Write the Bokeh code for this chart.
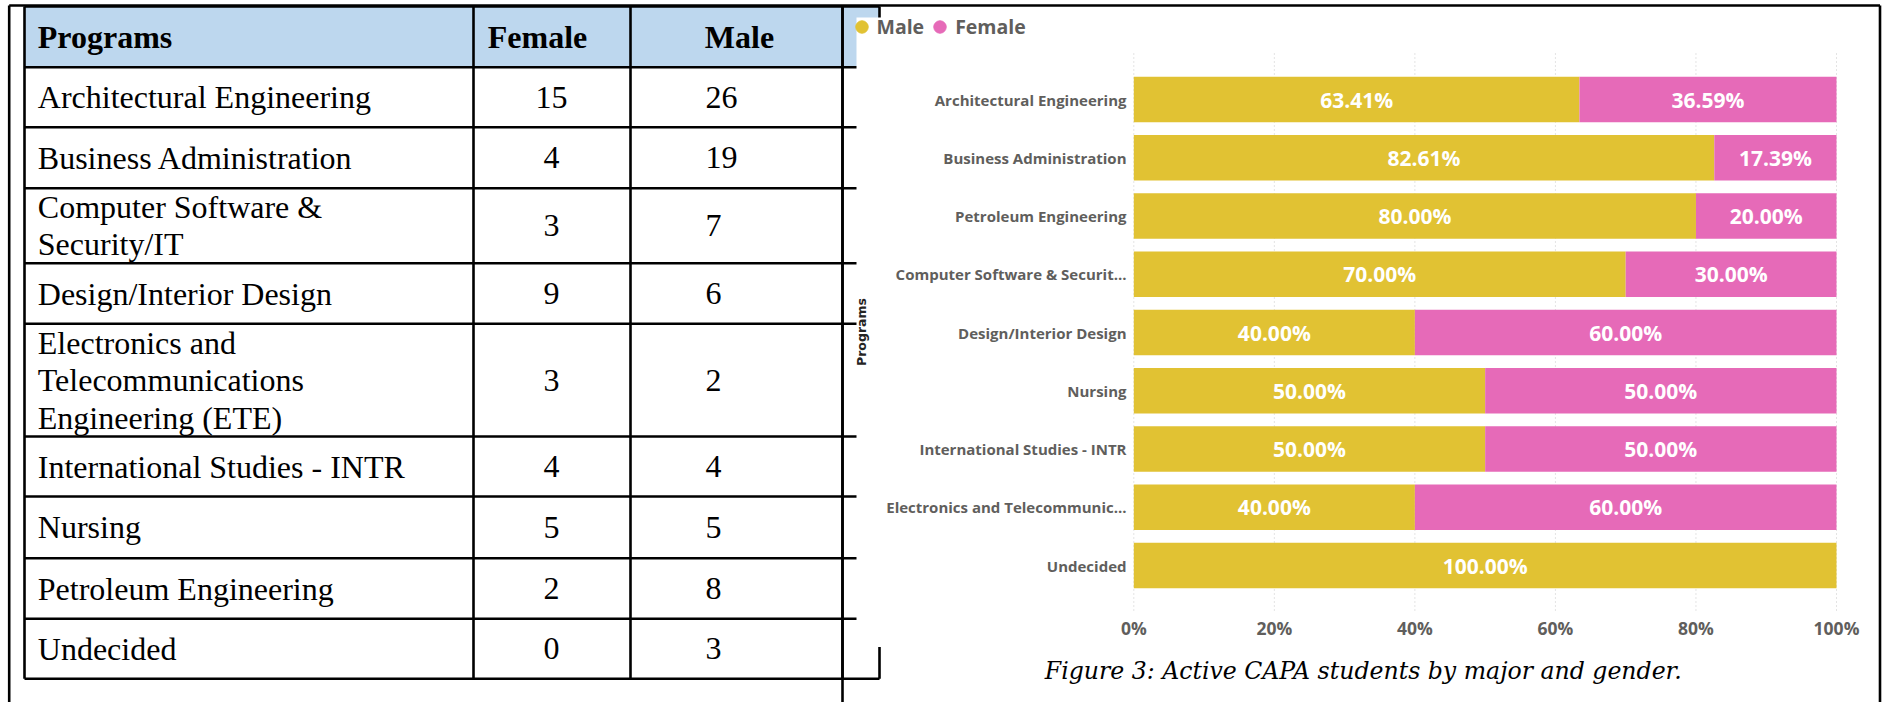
import math
from bokeh.plotting import figure
from bokeh.models import ColumnDataSource, Range1d, Legend, LegendItem
from bokeh.core.properties import value
from bokeh.embed import file_html
from bokeh.resources import INLINE

# ---------------- data ----------------
table_headers = ["Programs", "Female", "Male"]
table_programs = ["Architectural Engineering", "Business Administration",
                  "Computer Software &\nSecurity/IT", "Design/Interior Design",
                  "Electronics and\nTelecommunications\nEngineering (ETE)",
                  "International Studies - INTR", "Nursing", "Petroleum Engineering",
                  "Undecided"]
table_female = [15, 4, 3, 9, 3, 4, 5, 2, 0]
table_male = [26, 19, 7, 6, 2, 4, 5, 8, 3]

chart_programs = ["Architectural Engineering", "Business Administration",
                  "Petroleum Engineering", "Computer Software & Securit...",
                  "Design/Interior Design", "Nursing", "International Studies - INTR",
                  "Electronics and Telecommunic...", "Undecided"]
chart_male = [26, 19, 8, 7, 6, 5, 4, 2, 3]
chart_female = [15, 4, 2, 3, 9, 5, 4, 3, 0]
series_names = ["Male", "Female"]
x_ticks = [0, 20, 40, 60, 80, 100]
x_tick_labels = ["0%", "20%", "40%", "60%", "80%", "100%"]
y_title = "Programs"
caption = "Figure 3: Active CAPA students by major and gender."

# ---------------- styles / layout (page pixels) ----------------
MALE_C = "#E1C233"
FEMALE_C = "#E66AB8"
HEADER_BLUE = "#BDD7EE"
GRAY = "#605E5C"
LW = 2.6
PX0, PX1, PY0, PY1 = 0, 1886, 0, 702          # drawn page area
COL_EDGES = [24, 473, 630, 842, 879]
ROW_EDGES = [6, 66.7, 126.7, 187.7, 262.7, 323.3, 436, 496, 557.7, 618.3, 678.3]
FRAME_XS = [8.7, 842, 1879.5]
FRAME_TOP = 5
FRAME_BOTTOM = 702
NAME_X = 37.3
HEAD_XS = [37.3, 537, 739]
FEMALE_X = 551
MALE_X = 705
SERIF = "Liberation Serif"
TSIZE = "32px"
IMG_BOX = (856, 1866, 17, 646.5)   # white chart picture over the table's right edge
CH_X0, CH_X1 = 1133.3, 1836        # screen x of axis start / end
CH_TOP, CH_BOTTOM = 53, 610        # plot area
CH_Y_FIRST, CH_PITCH = 99, 58.25   # first category centre, category pitch
BAR_H = 0.78
TICK_Y = 627.5
CAT_LABEL_X = 1126
TITLE_XY = (860.7, 331.5)

p = figure(width=PX1 - PX0, height=PY1 - PY0, x_range=Range1d(PX0, PX1),
           y_range=Range1d(PY1, PY0), output_backend="svg", toolbar_location=None,
           min_border=0, x_axis_location=None, y_axis_location=None)
p.grid.visible = False
p.outline_line_color = None
p.background_fill_color = "white"
p.border_fill_color = "white"

# scales of the chart: percent along x, category index along y
sx = (CH_X1 - CH_X0) / (x_ticks[-1] - x_ticks[0])
p.extra_x_ranges = {"pct": Range1d(x_ticks[0] - (CH_X0 - PX0) / sx,
                                   x_ticks[-1] + (PX1 - CH_X1) / sx)}
p.extra_y_ranges = {"idx": Range1d((PY1 - CH_Y_FIRST) / CH_PITCH,
                                   -(CH_Y_FIRST - PY0) / CH_PITCH)}

# ---------------- table ----------------
p.quad(left=[COL_EDGES[0]], right=[COL_EDGES[-1]], top=[ROW_EDGES[0]],
       bottom=[ROW_EDGES[1]], fill_color=HEADER_BLUE, line_color=None)
n = len(ROW_EDGES)
p.segment(x0=[COL_EDGES[0]] * n, x1=[COL_EDGES[-1]] * n, y0=ROW_EDGES, y1=ROW_EDGES,
          line_color="black", line_width=LW)
m = len(COL_EDGES)
p.segment(x0=COL_EDGES, x1=COL_EDGES, y0=[ROW_EDGES[0]] * m, y1=[ROW_EDGES[-1]] * m,
          line_color="black", line_width=LW)
p.quad(left=[IMG_BOX[0]], right=[IMG_BOX[1]], top=[IMG_BOX[2]], bottom=[IMG_BOX[3]],
       fill_color="white", line_color=None)
p.segment(x0=[FRAME_XS[0]], x1=[FRAME_XS[-1]], y0=[FRAME_TOP], y1=[FRAME_TOP],
          line_color="black", line_width=LW)
k = len(FRAME_XS)
p.segment(x0=FRAME_XS, x1=FRAME_XS, y0=[FRAME_TOP] * k, y1=[FRAME_BOTTOM] * k,
          line_color="black", line_width=LW)

hy = (ROW_EDGES[0] + ROW_EDGES[1]) / 2
for i, t in enumerate(table_headers):
    p.text(x=[HEAD_XS[i]], y=[hy], text=[t], text_align="left" if i == 0 else "center",
           text_baseline="middle", text_font=value(SERIF), text_font_style="bold",
           text_font_size=TSIZE, text_color="black")
centers = [(ROW_EDGES[i] + ROW_EDGES[i + 1]) / 2 for i in range(1, len(ROW_EDGES) - 1)]
p.text(x=[NAME_X] * len(centers), y=centers, text=table_programs, text_align="left",
       text_baseline="middle", text_font=value(SERIF), text_font_size=TSIZE,
       text_color="black", text_line_height=1.04)
p.text(x=[FEMALE_X] * len(centers), y=centers, text=[str(v) for v in table_female],
       text_align="center", text_baseline="middle", text_font=value(SERIF),
       text_font_size=TSIZE, text_color="black")
p.text(x=[MALE_X] * len(centers), y=centers, text=[str(v) for v in table_male],
       text_align="left", text_baseline="middle", text_font=value(SERIF),
       text_font_size=TSIZE, text_color="black")

# ---------------- chart ----------------
male_pct = [100.0 * mm / (mm + ff) for mm, ff in zip(chart_male, chart_female)]
female_pct = [100.0 * ff / (mm + ff) for mm, ff in zip(chart_male, chart_female)]
idx = list(range(len(chart_programs)))
src = ColumnDataSource(dict(idx=idx, program=chart_programs, Male=male_pct, Female=female_pct))

# dotted vertical grid
p.segment(x0=x_ticks, x1=x_ticks, y0=[CH_TOP] * len(x_ticks), y1=[CH_BOTTOM] * len(x_ticks),
          x_range_name="pct", line_color="#C8C8C8", line_dash="1 3", line_width=1)

p.hbar_stack(series_names, y="idx", height=BAR_H, color=[MALE_C, FEMALE_C],
             line_color=None, source=src, x_range_name="pct", y_range_name="idx")

lab_x, lab_y, lab_t = [], [], []
for i, mp, fp in zip(idx, male_pct, female_pct):
    if mp > 0:
        lab_x.append(mp / 2); lab_y.append(i); lab_t.append(f"{mp:.2f}%")
    if fp > 0:
        lab_x.append(mp + fp / 2); lab_y.append(i); lab_t.append(f"{fp:.2f}%")
p.text(x=lab_x, y=lab_y, text=lab_t, x_range_name="pct", y_range_name="idx",
       text_align="center", text_baseline="middle", text_color="white",
       text_font=value("Open Sans"), text_font_style="bold", text_font_size="21px")

# category axis labels
p.text(x=[CAT_LABEL_X] * len(idx), y=idx, text=chart_programs, y_range_name="idx",
       text_align="right", text_baseline="middle", text_color=GRAY,
       text_font=value("Open Sans"), text_font_style="bold", text_font_size="15px")
# percent axis labels
p.text(x=x_ticks, y=[TICK_Y] * len(x_ticks), text=x_tick_labels, x_range_name="pct",
       text_align="center", text_baseline="middle", text_color=GRAY,
       text_font=value("Open Sans"), text_font_style="bold", text_font_size="17.5px")
# axis title
p.text(x=[TITLE_XY[0]], y=[TITLE_XY[1]], text=[y_title], angle=math.pi / 2,
       text_align="center", text_baseline="middle", text_color="#252423",
       text_font=value("DejaVu Sans"), text_font_style="bold", text_font_size="12.5px")

# legend (circle markers; the marker renderers hold no visible point)
nan = float("nan")
m_r = p.scatter(x=[nan], y=[nan], marker="circle", color=MALE_C)
f_r = p.scatter(x=[nan], y=[nan], marker="circle", color=FEMALE_C)
legend = Legend(items=[LegendItem(label=value(series_names[0]), renderers=[m_r]),
                       LegendItem(label=value(series_names[1]), renderers=[f_r])],
                orientation="horizontal", location=(845.5, 660.5), glyph_width=31,
                glyph_height=31, label_standoff=-4, spacing=-4, padding=0, margin=0,
                border_line_color=None, background_fill_alpha=0,
                label_text_font="Open Sans", label_text_font_style="bold",
                label_text_font_size="19.5px", label_text_color=GRAY)
p.add_layout(legend)

# caption
p.text(x=[1362.8], y=[670], text=[caption], text_align="center",
       text_baseline="alphabetic", text_font=value("DejaVu Serif"),
       text_font_style="italic", text_font_size="23.6px", text_color="black")

open("out.html", "w").write(file_html(p, INLINE))
